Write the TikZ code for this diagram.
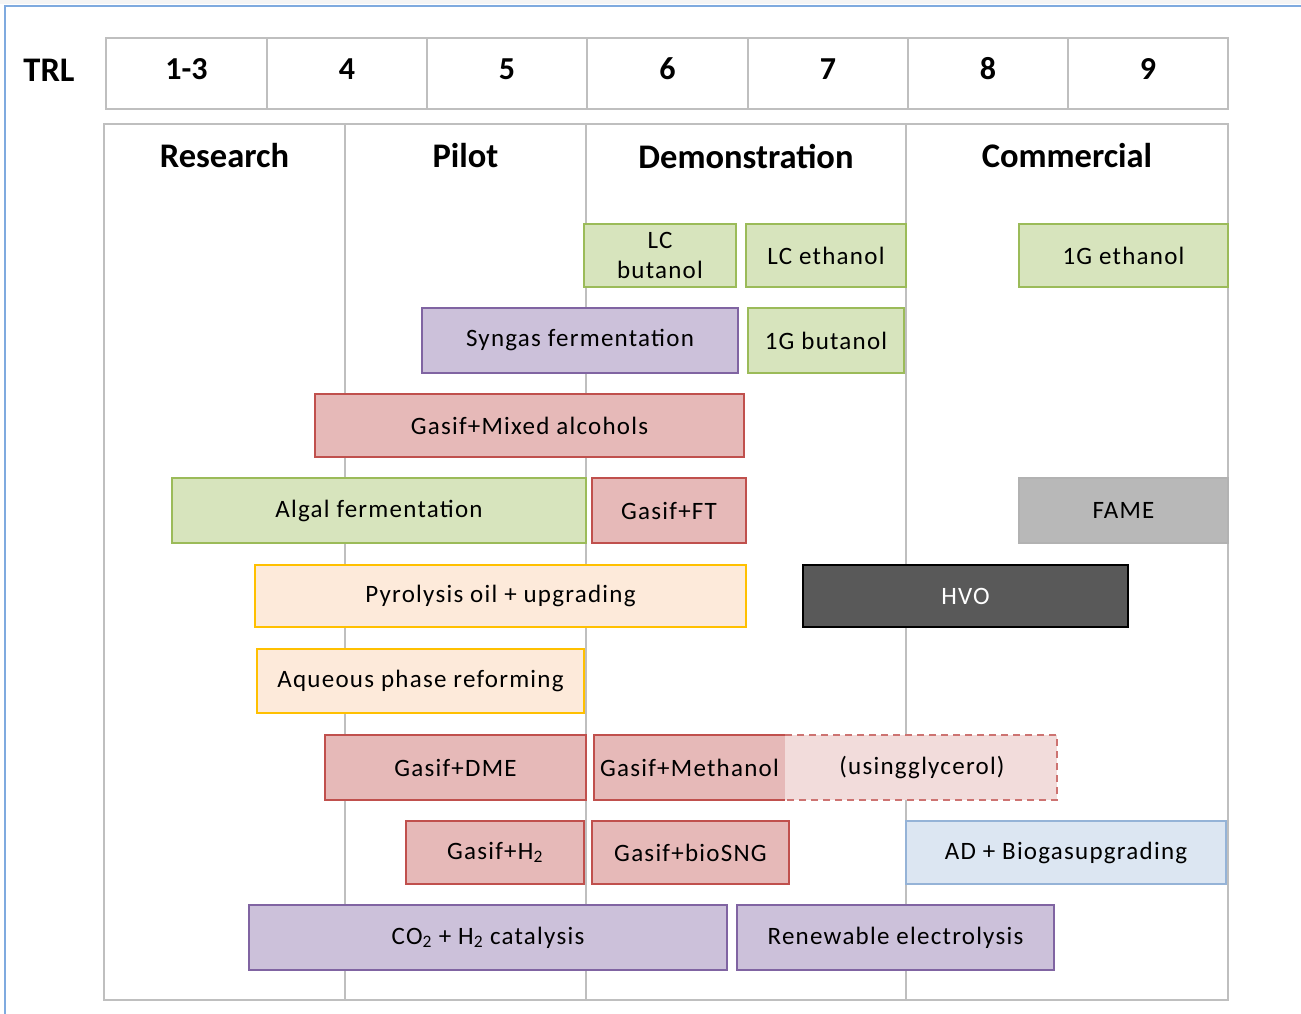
\documentclass[tikz,border=0pt]{standalone}
\usepackage{fontspec}
\setmainfont{Carlito}
\newfontfamily\boxfont[LetterSpace=5]{Carlito}
\begin{document}
\begin{tikzpicture}[x=1pt,y=-1pt,
  frame/.style={draw=black!25,line width=2.2pt,inner sep=0,outer sep=0,anchor=north west},
  head/.style={font=\fontsize{34.5}{38}\selectfont\bfseries,inner sep=0},
  num/.style={font=\fontsize{32}{36}\selectfont\bfseries,inner sep=0},
  bx/.style={line width=1.6pt,inner sep=0,outer sep=0,anchor=north west,font=\boxfont\fontsize{25}{28}\selectfont,align=center},
  grn/.style={bx,fill=green1,draw=green2},
  pur/.style={bx,fill=purp1,draw=purp2},
  red/.style={bx,fill=red1,draw=red2},
  org/.style={bx,fill=orng1,draw=orng2},
]
\definecolor{green1}{HTML}{D7E4BD}\definecolor{green2}{HTML}{9BBB59}
\definecolor{purp1}{HTML}{CCC1DA}\definecolor{purp2}{HTML}{8064A2}
\definecolor{red1}{HTML}{E6B9B8}\definecolor{red2}{HTML}{C0504D}
\definecolor{orng1}{HTML}{FDEADA}\definecolor{orng2}{HTML}{FFC000}
\definecolor{pink1}{HTML}{F2DCDB}
\definecolor{blu1}{HTML}{DCE6F2}\definecolor{blu2}{HTML}{95B3D7}
\definecolor{outer}{HTML}{7FAADF}
\newcommand{\bxx}[7]{\node[#6,minimum width={(#4-#2)*1pt},minimum height={(#5-#3)*1pt}] (#1) at (#2,#3) {#7};}
% canvas
\fill[white] (0,0) rectangle (1301,1014);
\useasboundingbox (0,0) rectangle (1301,1014);
\fill[black!4] (0,0) rectangle (1301,4);
\draw[outer,line width=2.5pt] (5,1014) -- (5,6) -- (1301,6);
% TRL row
\node[head] (trl) at (49,70) {TRL};
\foreach \i/\a/\b/\t in {1/106/267/1-3,2/267/427/4,3/427/587/5,4/587/748/6,5/748/908/7,6/908/1068/8,7/1068/1228/9}{
  \node[frame,minimum width={(\b-\a)*1pt},minimum height=71pt] (c\i) at (\a,38) {};
  \node[num] (n\i) at ({(\a+\b)/2},69) {\t};
}
% phase columns
\foreach \i/\a/\b/\t in {1/104/345/Research,2/345/586/Pilot,3/586/906/Demonstration,4/906/1228/Commercial}{
  \node[frame,minimum width={(\b-\a)*1pt},minimum height=876pt] (p\i) at (\a,124) {};
  \node[head] (h\i) at ({(\a+\b)/2},156) {\t};
}
% boxes
\bxx{lcb}{584}{224}{736}{287}{grn}{LC\\[2pt]butanol}
\bxx{lce}{746}{224}{906}{287}{grn}{LC ethanol}
\bxx{gea}{1019}{224}{1228}{287}{grn}{1G ethanol}
\bxx{syn}{422}{308}{738}{373}{pur}{Syngas fermentation}
\bxx{gbu}{748}{308}{904}{373}{grn}{1G butanol}
\bxx{mix}{315}{394}{744}{457}{red}{Gasif+Mixed alcohols}
\bxx{alg}{172}{478}{586}{543}{grn}{Algal fermentation}
\bxx{ft}{592}{478}{746}{543}{red}{Gasif+FT}
\bxx{fame}{1019}{478}{1228}{543}{bx,fill=black!28,draw=black!30}{FAME}
\bxx{pyr}{255}{565}{746}{627}{org}{Pyrolysis oil + upgrading}
\bxx{hvo}{803}{565}{1128}{627}{bx,fill=black!65,draw=black,text=white}{HVO}
\bxx{aqu}{257}{649}{584}{713}{org}{Aqueous phase reforming}
\bxx{dme}{325}{735}{586}{800}{red}{Gasif+DME}
\bxx{gly}{783}{735}{1057}{800}{bx,fill=pink1,draw=none}{\hspace*{4pt}(usingglycerol)}
\bxx{meth}{594}{735}{785}{800}{bx,fill=red1,draw=none}{Gasif+Methanol}
\draw[red2,line width=1.6pt] (meth.north east) -- (meth.north west) -- (meth.south west) -- (meth.south east);
\draw[red2!80,line width=1.6pt,dash pattern=on 7pt off 5pt] (meth.north east) -- (gly.north east) -- (gly.south east) -- (meth.south east);
\bxx{h2}{406}{821}{584}{884}{red}{Gasif+H\textsubscript{2}}
\bxx{sng}{592}{821}{789}{884}{red}{Gasif+bioSNG}
\bxx{ad}{906}{821}{1226}{884}{bx,fill=blu1,draw=blu2}{AD + Biogasupgrading}
\bxx{co2}{249}{905}{727}{970}{pur}{CO\textsubscript{2} + H\textsubscript{2} catalysis}
\bxx{ren}{737}{905}{1054}{970}{pur}{Renewable electrolysis}
\end{tikzpicture}
\end{document}
